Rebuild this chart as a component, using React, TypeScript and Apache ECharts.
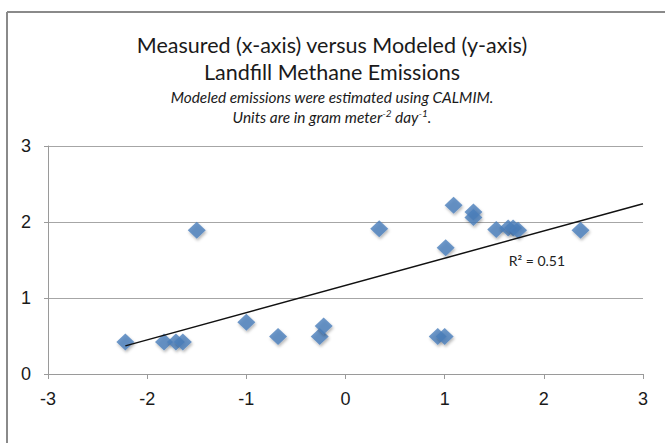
import React, { useEffect, useRef } from "react";
import * as echarts from "echarts";

const measured = [-2.22, -1.83, -1.71, -1.64, -1.5, -1.0, -0.68, -0.26, -0.22, 0.34, 0.93, 1.0, 1.01, 1.09, 1.29, 1.29, 1.52, 1.64, 1.69, 1.74, 2.37];
const modeled = [0.42, 0.42, 0.42, 0.42, 1.89, 0.68, 0.495, 0.495, 0.63, 1.91, 0.495, 0.495, 1.66, 2.22, 2.13, 2.06, 1.9, 1.92, 1.92, 1.89, 1.89];
const trendX = [-2.22, 3];
const trendY = [0.37, 2.24];
const r2Label = "R² = 0.51";
const r2Pos = [1.93, 1.5];
const xTicks = [-3, -2, -1, 0, 1, 2, 3];
const yTicks = [0, 1, 2, 3];

export default function App() {
  const ref = useRef<HTMLDivElement>(null);
  useEffect(() => {
    if (!ref.current) return;
    const chart = echarts.init(ref.current, null, { renderer: "svg" });
    const pts = measured.map((x, i) => [x, modeled[i]]);
    const trend = trendX.map((x, i) => [x, trendY[i]]);
    const titleFont = "Lato, 'Open Sans', sans-serif";
    const axisFont = "'Liberation Sans', Arial, sans-serif";
    chart.setOption({
      animation: false,
      backgroundColor: "#ffffff",
      grid: { left: 48, right: 22, top: 146, bottom: 69 },
      xAxis: {
        type: "value",
        min: xTicks[0],
        max: xTicks[xTicks.length - 1],
        interval: 1,
        axisLine: { show: true, onZero: false, lineStyle: { color: "#9a9a9a", width: 1 } },
        axisTick: { show: true, length: 5, lineStyle: { color: "#9a9a9a" } },
        axisLabel: { fontSize: 18, color: "#1a1a1a", fontFamily: axisFont, margin: 16 },
        splitLine: { show: false },
      },
      yAxis: {
        type: "value",
        min: yTicks[0],
        max: yTicks[yTicks.length - 1],
        interval: 1,
        axisLine: { show: true, onZero: false, lineStyle: { color: "#9a9a9a", width: 1 } },
        axisTick: { show: true, length: 4, lineStyle: { color: "#9a9a9a" } },
        axisLabel: { fontSize: 18, color: "#1a1a1a", fontFamily: axisFont, margin: 17 },
        splitLine: { show: true, lineStyle: { color: "#a6a6a6", width: 1 } },
      },
      graphic: [
        { type: "line", shape: { x1: 7, y1: 12, x2: 665, y2: 12 }, style: { stroke: "#8a8a8a", lineWidth: 2 } },
        { type: "line", shape: { x1: 7, y1: 12, x2: 7, y2: 443 }, style: { stroke: "#8a8a8a", lineWidth: 2 } },
        {
          type: "text", x: 332, y: 45,
          style: { text: "Measured (x-axis) versus Modeled (y-axis)", fontSize: 21.5, fontFamily: titleFont, fill: "#1a1a1a", textAlign: "center", textVerticalAlign: "middle" },
        },
        {
          type: "text", x: 332, y: 72,
          style: { text: "Landfill Methane Emissions", fontSize: 21.5, fontFamily: titleFont, fill: "#1a1a1a", textAlign: "center", textVerticalAlign: "middle" },
        },
        {
          type: "text", x: 332, y: 97,
          style: { text: "Modeled emissions were estimated using CALMIM.", fontSize: 15.4, fontStyle: "italic", fontFamily: titleFont, fill: "#1a1a1a", textAlign: "center", textVerticalAlign: "middle" },
        },
        {
          type: "text", x: 332, y: 117,
          style: {
            text: "{n|Units are in gram meter}{s|-2}{n| day}{s|-1}{n|.}",
            fontSize: 15.4, fontStyle: "italic", fontFamily: titleFont, fill: "#1a1a1a", textAlign: "center", textVerticalAlign: "middle",
            rich: {
              n: { fontSize: 15.4, fontStyle: "italic", fontFamily: titleFont, fill: "#1a1a1a", lineHeight: 19 },
              s: { fontSize: 10, fontStyle: "italic", fontFamily: titleFont, fill: "#1a1a1a", verticalAlign: "top", lineHeight: 19 },
            },
          },
        },
      ],
      series: [
        {
          type: "line",
          data: trend,
          symbol: "none",
          lineStyle: { color: "#111111", width: 1.5 },
          silent: true,
          z: 3,
          markPoint: {
            symbol: "circle",
            symbolSize: 0,
            data: [{ coord: r2Pos, value: r2Label }],
            label: { show: true, formatter: r2Label, fontSize: 14, fontFamily: titleFont, color: "#222", position: "inside" },
          },
        },
        {
          type: "scatter",
          data: pts,
          symbol: "diamond",
          symbolSize: [18, 17],
          itemStyle: {
            color: "#4a7ebb",
            shadowBlur: 3,
            shadowColor: "rgba(0,0,0,0.35)",
            shadowOffsetX: 1,
            shadowOffsetY: 2,
          },
          z: 2,
        },
      ],
    });
    return () => chart.dispose();
  }, []);
  return (
    <div style={{ position: "fixed", left: 0, top: 0, width: 665, height: 443, background: "#fff" }}>
      <div ref={ref} style={{ width: 665, height: 443 }} />
    </div>
  );
}
